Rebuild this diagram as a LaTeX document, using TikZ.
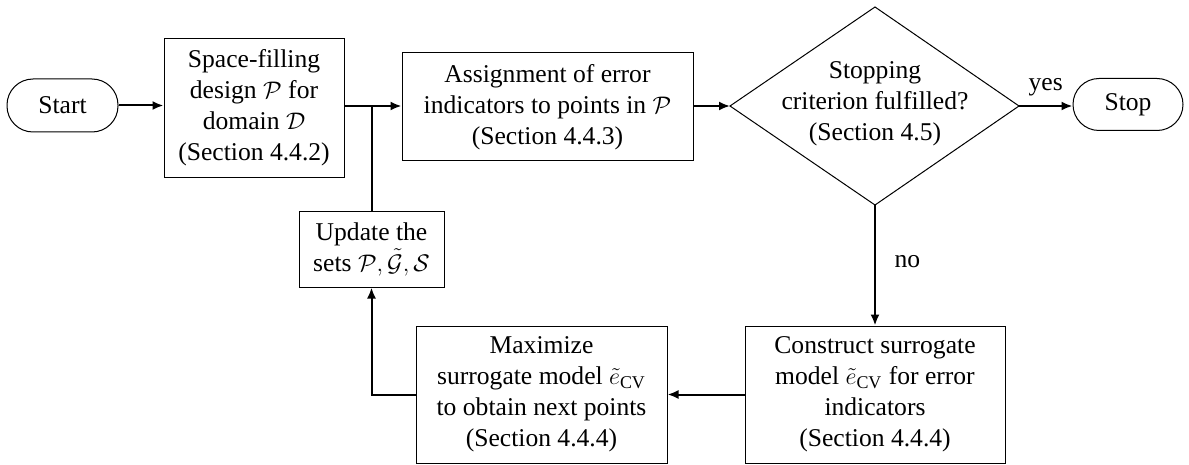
\documentclass[tikz,border=0pt]{standalone}
\usepackage{fontspec}
\setmainfont{Liberation Serif}
\usetikzlibrary{arrows.meta}
\tikzset{
  every node/.style={font=\rmfamily\fontsize{12.8}{15.5}\selectfont},
  box/.style={draw, line width=0.5pt, align=center, inner sep=0pt},
  term/.style={draw, line width=0.5pt, rounded corners=13pt, align=center, inner sep=0pt},
  decis/.style={align=center, inner sep=0pt},
  outline/.style={draw, line width=0.5pt},
  conn/.style={line width=1pt, -{Latex[length=5.5pt,width=4.5pt]}},
  plain/.style={line width=1pt}
}
\begin{document}
\begin{tikzpicture}[x=0.5pt,y=-0.5pt]
\useasboundingbox (0,0) rectangle (1189,465);
\node[term, minimum width=55.5pt, minimum height=26.5pt] (start) at (62.5,105.5) {Start};
\node[box, minimum width=90pt, minimum height=69.5pt] (box1) at (254,108)
  {Space-filling\\design $\mathcal{P}$ for\\domain $\mathcal{D}$\\(Section 4.4.2)};
\node[box, minimum width=145.5pt, minimum height=54pt] (box2) at (547.5,107)
  {Assignment of error\\indicators to points in $\mathcal{P}$\\(Section 4.4.3)};
\coordinate (diaT) at (875,7);
\coordinate (diaL) at (730,106);
\coordinate (diaR) at (1019,106);
\coordinate (diaB) at (875,205);
\draw[outline] (diaT) -- (diaR) -- (diaB) -- (diaL) -- cycle;
\node[decis] (dia) at (875,104)
  {Stopping\\criterion fulfilled?\\(Section 4.5)};
\node[term, minimum width=55pt, minimum height=26pt] (stop) at (1128,104.5) {Stop};
\node[box, minimum width=130pt, minimum height=68.5pt] (cons) at (875,394.5)
  {Construct surrogate\\model $\tilde{e}_{\mathrm{CV}}$ for error\\indicators\\(Section 4.4.4)};
\node[box, minimum width=125.5pt, minimum height=68.5pt] (maxim) at (541.5,394.5)
  {Maximize\\surrogate model $\tilde{e}_{\mathrm{CV}}$\\to obtain next points\\(Section 4.4.4)};
\node[box, minimum width=72.5pt, minimum height=38pt] (upd) at (371.5,249)
  {Update the\\sets $\mathcal{P},\tilde{\mathcal{G}},\mathcal{S}$};
\coordinate (j) at (371.5,106);
\draw[conn] (start.east) -- (box1.west |- start.east);
\draw[plain] (box1.east |- j) -- (j);
\draw[conn] (j) -- (box2.west |- j);
\draw[plain] (j) -- (upd.north);
\draw[conn] (box2.east |- diaL) -- (diaL);
\draw[conn] (diaR) -- (stop.west |- diaR) node[midway, above=1pt] (yes) {yes};
\draw[conn] (diaB) -- (cons.north) node[pos=0.47, right=6pt] (no) {no};
\draw[conn] (cons.west) -- (maxim.east);
\draw[conn] (maxim.west) -| (upd.south);
\end{tikzpicture}
\end{document}
